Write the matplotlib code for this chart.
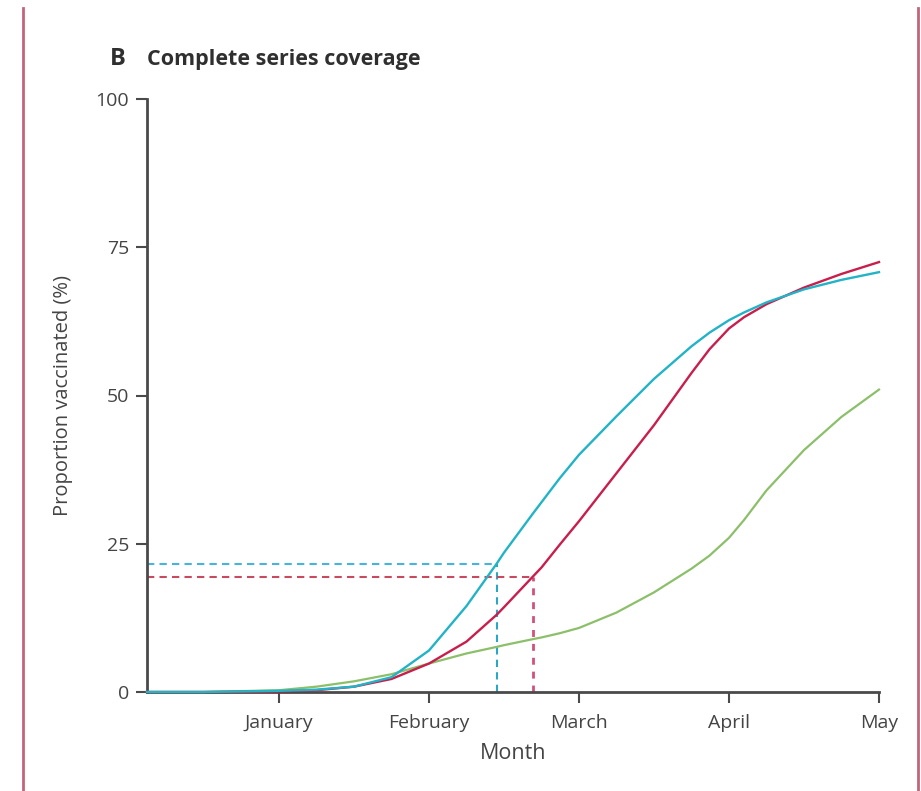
import matplotlib
matplotlib.use("Agg")
import matplotlib.pyplot as plt
from matplotlib.lines import Line2D

# Month axis: 1 = January ... 5 = May
months = [0.12, 0.5, 1.0, 1.25, 1.5, 1.75, 2.0, 2.25, 2.45, 2.5, 2.69, 2.75,
          2.87, 3.0, 3.25, 3.5, 3.75, 3.87, 4.0, 4.1, 4.25, 4.5, 4.75, 5.0]
cyan_cov = [0, 0, 0.2, 0.4, 0.9, 2.5, 7.0, 14.5, 21.6, 23.5, 30.0, 32.0,
            36.0, 40.0, 46.5, 52.8, 58.3, 60.6, 62.7, 64.0, 65.7, 67.9, 69.5, 70.8]
red_cov = [0, 0, 0.1, 0.3, 0.9, 2.2, 4.8, 8.5, 13.0, 14.3, 19.4, 21.0,
           24.8, 28.8, 36.9, 45.0, 53.8, 57.8, 61.3, 63.2, 65.4, 68.2, 70.5, 72.5]
green_cov = [0, 0, 0.3, 0.9, 1.8, 3.0, 4.8, 6.5, 7.6, 7.9, 8.9, 9.2,
             9.9, 10.8, 13.4, 16.8, 20.8, 23.0, 26.0, 29.0, 34.0, 40.8, 46.4, 51.0]

tick_months = [1, 2, 3, 4, 5]
tick_names = ["January", "February", "March", "April", "May"]
y_ticks = [0, 25, 50, 75, 100]

# 20 % coverage reach points
cyan_mark = (2.453, 21.6)
red_mark = (2.693, 19.4)

c_cyan = "#22b3c6"
c_red = "#c81e4c"
c_green = "#8cbf6a"
c_axis = "#4a4a4a"
c_text = "#444444"

plt.rcParams["font.family"] = ["Open Sans", "DejaVu Sans"]

fig = plt.figure(figsize=(9.21, 7.91), dpi=100)
ax = fig.add_axes([147 / 921, 1 - 692 / 791, (879 - 147) / 921, (692 - 99) / 791])

x0 = months[0]
ax.plot([x0, cyan_mark[0]], [cyan_mark[1]] * 2, ls=(0, (3.5, 2.5)), color="#47b4dc", lw=1.5, zorder=2)
ax.plot([cyan_mark[0]] * 2, [0, cyan_mark[1]], ls=(0, (3.5, 2.5)), color="#2aa7c4", lw=1.5, zorder=2)
ax.plot([x0, red_mark[0]], [red_mark[1]] * 2, ls=(0, (3.5, 2.5)), color="#c84a5e", lw=1.5, zorder=2)
ax.plot([red_mark[0]] * 2, [0, red_mark[1]], ls=(0, (2.5, 2.5)), color="#d2507a", lw=2.0, zorder=2)

ax.plot(months, green_cov, color=c_green, lw=1.6, zorder=3, clip_on=False)
ax.plot(months, red_cov, color=c_red, lw=1.7, zorder=4, clip_on=False)
ax.plot(months, cyan_cov, color=c_cyan, lw=1.7, zorder=5, clip_on=False)

ax.set_xlim(x0, 5)
ax.set_ylim(0, 100)
for side in ("top", "right"):
    ax.spines[side].set_visible(False)
for side in ("left", "bottom"):
    ax.spines[side].set_color(c_axis)
    ax.spines[side].set_linewidth(2.0)

ax.set_xticks(tick_months)
ax.set_xticklabels(tick_names)
ax.set_yticks(y_ticks)
ax.tick_params(axis="both", colors=c_axis, length=8, width=1.5, labelsize=14,
               labelcolor=c_text)
ax.tick_params(axis="x", pad=8)
ax.tick_params(axis="y", pad=5)

ax.set_xlabel("Month", fontsize=15.5, color=c_text, labelpad=8)
ax.set_ylabel("Proportion vaccinated (%)", fontsize=14.5, color=c_text, labelpad=16)

fig.text(110 / 921, 1 - 59 / 791, "B", fontsize=17, fontweight="bold", color="#2f2f2f",
         va="center", ha="left")
fig.text(147 / 921, 1 - 60 / 791, "Complete series coverage", fontsize=15.5,
         fontweight="bold", color="#2f2f2f", va="center", ha="left")

# panel frame
fig.add_artist(Line2D([23 / 921, 23 / 921], [0, 1 - 8 / 791], transform=fig.transFigure,
                      color="#c4647a", lw=2))
fig.add_artist(Line2D([918 / 921, 918 / 921], [0, 1 - 8 / 791], transform=fig.transFigure,
                      color="#c4647a", lw=2))

fig.savefig("out.png", dpi=100)
